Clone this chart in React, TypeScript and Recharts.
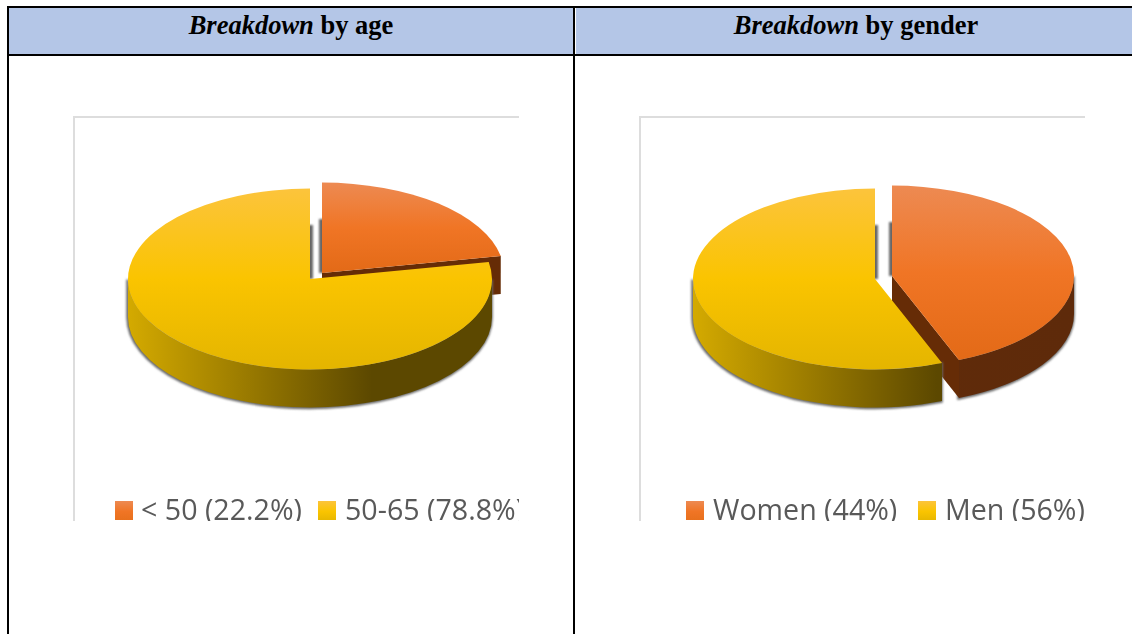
import React from "react";
import { PieChart, Pie, Cell, Legend } from "recharts";

const ageNames = ["< 50 (22.2%)", "50-65 (78.8%)"];
const ageValues = [22.2, 78.8];
const genderNames = ["Women (44%)", "Men (56%)"];
const genderValues = [44, 56];
const toRows = (names: string[], values: number[]) =>
  names.map((name, i) => ({ name, value: values[i] }));

const SQUASH = 0.497;
const DEPTH = 38;
const RADIUS = 182;
const TOP_STOPS = [
  ["#ED8A52", "#F07525", "#E36A17"],
  ["#FCC43C", "#FAC400", "#E4B500"],
];
const LEGEND_CSS = [
  "linear-gradient(#ED8A52,#F07525 55%,#E8701D)",
  "linear-gradient(#FCC43C,#FAC400 55%,#E8B800)",
];

function point(cx: number, cy: number, r: number, deg: number, dy = 0) {
  const a = (deg * Math.PI) / 180;
  return [cx + r * Math.cos(a), cy - r * SQUASH * Math.sin(a) + dy];
}
function arc(cx: number, cy: number, r: number, from: number, to: number, dy = 0) {
  const [x, y] = point(cx, cy, r, to, dy);
  const large = Math.abs(from - to) > 180 ? 1 : 0;
  const sweep = to < from ? 1 : 0;
  return `A ${r} ${r * SQUASH} 0 ${large} ${sweep} ${x} ${y}`;
}

function makeShape(id: string, offsets: number[][]) {
  return function Slice(props: any) {
    const { startAngle, endAngle, outerRadius: r, index: propIndex } = props;
    const index = propIndex ?? (startAngle === 90 ? 0 : 1);
    const [ox, oy] = offsets[index];
    const cx = props.cx + ox;
    const cy = props.cy + oy;
    const s = point(cx, cy, r, startAngle);
    const e = point(cx, cy, r, endAngle);
    const top = `M ${cx} ${cy} L ${s[0]} ${s[1]} ${arc(cx, cy, r, startAngle, endAngle)} Z`;

    const frontFrom = Math.min(startAngle, 0);
    const frontTo = Math.max(endAngle, -180);
    let wall = "";
    if (frontFrom > frontTo) {
      const a = point(cx, cy, r, frontFrom);
      const b = point(cx, cy, r, frontTo, DEPTH);
      wall = `M ${a[0]} ${a[1]} ${arc(cx, cy, r, frontFrom, frontTo)} L ${b[0]} ${b[1]} ${arc(cx, cy, r, frontTo, frontFrom, DEPTH)} Z`;
    }
    const face = (p: number[]) =>
      `M ${cx} ${cy} L ${p[0]} ${p[1]} L ${p[0]} ${p[1] + DEPTH} L ${cx} ${cy + DEPTH} Z`;
    const gTop = `${id}-top-${index}`;
    const gWall = `${id}-wall-${index}`;
    const stops = TOP_STOPS[index];
    return (
      <g>
        <defs>
          <linearGradient id={gTop} x1="0" y1="0" x2="0" y2="1">
            <stop offset="0" stopColor={stops[0]} />
            <stop offset="0.5" stopColor={stops[1]} />
            <stop offset="1" stopColor={stops[2]} />
          </linearGradient>
          <linearGradient id={gWall} gradientUnits="userSpaceOnUse" x1={cx - r} x2={cx + r} y1="0" y2="0">
            {index === 1
              ? [
                  <stop key="a" offset="0" stopColor="#D4AA00" />,
                  <stop key="b" offset="0.67" stopColor="#5C4800" />,
                  <stop key="c" offset="1" stopColor="#5C4800" />,
                ]
              : [
                  <stop key="a" offset="0" stopColor="#622C0A" />,
                  <stop key="c" offset="1" stopColor="#5E2A0A" />,
                ]}
          </linearGradient>
          <filter id={`${id}-blur`} x="-20%" y="-20%" width="140%" height="140%">
            <feGaussianBlur stdDeviation="1.1" />
          </filter>
        </defs>
        <rect x={cx - 3} y={cy - 54} width={6} height={54} fill="#666" filter={`url(#${id}-blur)`} />
        {wall && (
          <path
            d={wall}
            fill="#6a6a6a"
            stroke="#6a6a6a"
            strokeWidth={2.5}
            filter={`url(#${id}-blur)`}
            transform="translate(-0.5 0.5)"
          />
        )}
        <path d={face(e)} fill={index === 0 ? "#662C06" : "#5C4800"} />
        {wall && <path d={wall} fill={`url(#${gWall})`} />}
        <path d={top} fill={`url(#${gTop})`} />
      </g>
    );
  };
}

function renderLegend(iconLefts: number[], textLefts: number[]) {
  return function LegendContent(props: any) {
    const payload = props.payload ?? [];
    return (
      <div style={{ position: "relative", width: 446, height: 405 }}>
        {payload.map((entry: any, i: number) => (
          <React.Fragment key={i}>
            <div
              style={{
                position: "absolute",
                left: iconLefts[i],
                top: 385,
                width: 18,
                height: 19,
                background: LEGEND_CSS[i],
              }}
            />
            <div
              style={{
                position: "absolute",
                left: textLefts[i],
                top: 374,
                fontFamily: "'Open Sans', sans-serif",
                fontSize: 28.6,
                lineHeight: "38px",
                color: "#595959",
                whiteSpace: "nowrap",
              }}
            >
              {entry.value}
            </div>
          </React.Fragment>
        ))}
      </div>
    );
  };
}

function ChartPanel(p: {
  id: string;
  left: number;
  width: number;
  names: string[];
  values: number[];
  cx: number;
  cy: number;
  offsets: number[][];
  iconLefts: number[];
  textLefts: number[];
}) {
  return (
    <div
      style={{
        position: "absolute",
        left: p.left,
        top: 116,
        width: p.width,
        height: 405,
        overflow: "hidden",
      }}
    >
      <div style={{ filter: "blur(0.5px)" }}>
        <PieChart width={p.width} height={405} margin={{ top: 0, right: 0, bottom: 0, left: 0 }}>
          <Pie
            data={toRows(p.names, p.values)}
            dataKey="value"
            nameKey="name"
            cx={p.cx}
            cy={p.cy}
            outerRadius={RADIUS}
            startAngle={90}
            endAngle={-270}
            stroke="none"
            isAnimationActive={false}
            shape={makeShape(p.id, p.offsets)}
          >
            {p.names.map((n, i) => (
              <Cell key={n} fill={TOP_STOPS[i][1]} />
            ))}
          </Pie>
          <Legend
            itemSorter={null}
            content={renderLegend(p.iconLefts, p.textLefts)}
            wrapperStyle={{ left: 0, top: 0, bottom: "auto", width: p.width, height: 405 }}
          />
        </PieChart>
      </div>
      <div style={{ position: "absolute", left: 0, top: 0, width: "100%", height: 2, background: "#DDDDDD" }} />
      <div style={{ position: "absolute", left: 0, top: 0, width: 2, height: "100%", background: "#DDDDDD" }} />
    </div>
  );
}

const line = "#000";
function Header(p: { left: number; width: number; lead: string; rest: string }) {
  return (
    <div
      style={{
        position: "absolute",
        left: p.left,
        top: 8,
        width: p.width,
        height: 46,
        background: "#B4C6E7",
        textAlign: "center",
        fontFamily: "'Liberation Serif', serif",
        fontSize: 26.5,
        fontWeight: 700,
        lineHeight: "34px",
        color: "#000",
      }}
    >
      <i>{p.lead}</i> {p.rest}
    </div>
  );
}

export default function App() {
  return (
    <div style={{ position: "fixed", left: 0, top: 0, width: 1132, height: 634, overflow: "hidden", background: "#fff" }}>
      <Header left={8} width={566} lead="Breakdown" rest="by age" />
      <Header left={576} width={560} lead="Breakdown" rest="by gender" />
      <div style={{ position: "absolute", left: 7, top: 6, width: 1140, height: 2, background: line }} />
      <div style={{ position: "absolute", left: 7, top: 54, width: 1140, height: 2, background: line }} />
      <div style={{ position: "absolute", left: 7, top: 6, width: 2, height: 640, background: line }} />
      <div style={{ position: "absolute", left: 573, top: 6, width: 2, height: 640, background: line }} />
      <ChartPanel
        id="age"
        left={73}
        width={446}
        names={ageNames}
        values={ageValues}
        cx={237}
        cy={163}
        offsets={[[12, -6], [0, 0]]}
        iconLefts={[42, 245]}
        textLefts={[68, 272]}
      />
      <ChartPanel
        id="gender"
        left={639}
        width={446}
        names={genderNames}
        values={genderValues}
        cx={236}
        cy={163}
        offsets={[[17, -3], [0, 0]]}
        iconLefts={[47, 279]}
        textLefts={[74, 306]}
      />
    </div>
  );
}
